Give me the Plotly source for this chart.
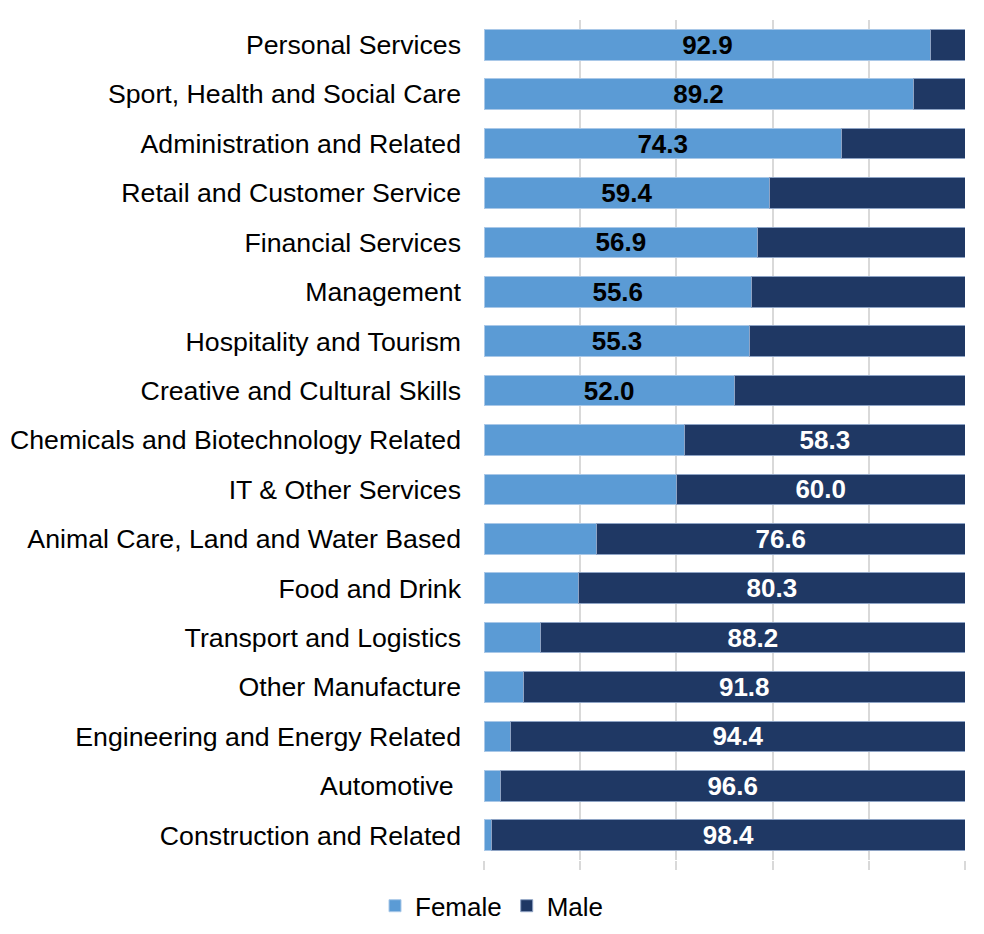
import plotly.graph_objects as go

# sectors, top to bottom as shown
sectors = [
    "Personal Services",
    "Sport, Health and Social Care",
    "Administration and Related",
    "Retail and Customer Service",
    "Financial Services",
    "Management",
    "Hospitality and Tourism",
    "Creative and Cultural Skills",
    "Chemicals and Biotechnology Related",
    "IT & Other Services",
    "Animal Care, Land and Water Based",
    "Food and Drink",
    "Transport and Logistics",
    "Other Manufacture",
    "Engineering and Energy Related",
    "Automotive\u00a0",
    "Construction and Related",
]

female = [92.9, 89.2, 74.3, 59.4, 56.9, 55.6, 55.3, 52.0,
          41.7, 40.0, 23.4, 19.7, 11.8, 8.2, 5.6, 3.4, 1.6]
male = [7.1, 10.8, 25.7, 40.6, 43.1, 44.4, 44.7, 48.0,
        58.3, 60.0, 76.6, 80.3, 88.2, 91.8, 94.4, 96.6, 98.4]

# only the majority share gets a label
female_labels = [f"{v:.1f}" if v > 50 else "" for v in female]
male_labels = [f"{v:.1f}" if v > 50 else "" for v in male]

FONT = "Liberation Sans, Arial"

fig = go.Figure()

fig.add_trace(go.Bar(
    y=sectors, x=female, name="Female", orientation="h",
    marker=dict(color="#5B9BD5", line=dict(color="#A9C8E8", width=1)),
    text=female_labels, textposition="inside", insidetextanchor="middle",
    textangle=0, constraintext="none",
    textfont=dict(family=FONT, size=26, color="black", weight="bold"),
))

fig.add_trace(go.Bar(
    y=sectors, x=male, name="Male", orientation="h",
    marker=dict(color="#1F3864", line=dict(color="#8EA3C4", width=1)),
    text=male_labels, textposition="inside", insidetextanchor="middle",
    textangle=0, constraintext="none",
    textfont=dict(family=FONT, size=26, color="white", weight="bold"),
))

# page body adds an 8px margin, so the figure is 16px smaller than the window
fig.update_layout(
    barmode="stack",
    bargap=0.38,
    width=968, height=918,
    margin=dict(l=476, r=11, t=12, b=66),
    paper_bgcolor="white",
    plot_bgcolor="white",
    font=dict(family=FONT, size=26, color="black"),
    showlegend=True,
    legend=dict(
        orientation="h",
        xref="container", x=0.5, xanchor="center",
        yref="container", y=0.022, yanchor="middle",
        font=dict(size=26),
        traceorder="normal",
    ),
    xaxis=dict(
        range=[0, 100], dtick=20,
        showgrid=True, gridcolor="#D9D9D9", gridwidth=1.5,
        zeroline=False,
        showticklabels=False,
        ticks="outside", ticklen=9, tickcolor="#D9D9D9", tickwidth=1.5,
        showline=False,
    ),
    yaxis=dict(
        autorange="reversed",
        automargin=False,
        showgrid=False, zeroline=False,
        ticks="", ticklabelstandoff=22,
        tickfont=dict(size=26.7),
    ),
)

fig.write_html("out.html")
